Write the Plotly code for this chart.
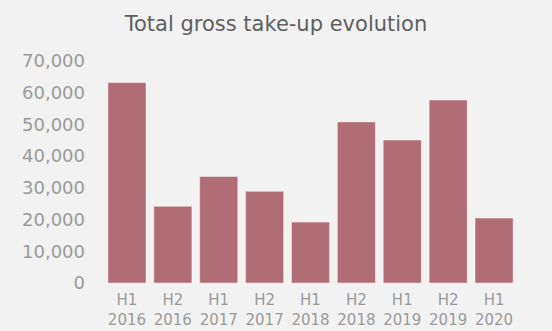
import plotly.graph_objects as go

# Half-year periods and gross take-up (sq m)
periods = ["H1<br>2016", "H2<br>2016", "H1<br>2017", "H2<br>2017", "H1<br>2018",
           "H2<br>2018", "H1<br>2019", "H2<br>2019", "H1<br>2020"]
take_up = [63200, 24200, 33600, 28900, 19200, 50800, 45100, 57700, 20500]

y_ticks = [0, 10000, 20000, 30000, 40000, 50000, 60000, 70000]

BG = "#f2f2f2"
BAR = "#b16d75"
FONT = "DejaVu Sans"
TICK_COLOR = "#9a9a9a"

fig = go.Figure(
    go.Bar(
        x=periods,
        y=take_up,
        marker=dict(color=BAR, line=dict(color="rgba(255,255,255,0.45)", width=1)),
        hoverinfo="skip",
    )
)

fig.update_layout(
    width=552,
    height=331,
    margin=dict(l=104, r=35, t=61, b=48, autoexpand=False),
    paper_bgcolor=BG,
    plot_bgcolor=BG,
    bargap=0.17,
    showlegend=False,
    title=dict(
        text="Total gross take-up evolution",
        x=0.5,
        xanchor="center",
        y=1 - 24 / 331,
        yanchor="middle",
        font=dict(family=FONT, size=21, color="#5f5f5f"),
    ),
    xaxis=dict(
        showgrid=False,
        zeroline=False,
        showline=False,
        ticks="",
        automargin=False,
        ticklabelstandoff=6,
        tickfont=dict(family=FONT, size=15, color=TICK_COLOR),
    ),
    yaxis=dict(
        range=[0, 70000],
        tickvals=y_ticks,
        tickformat=",d",
        showgrid=False,
        zeroline=False,
        showline=False,
        ticks="",
        automargin=False,
        ticklabelstandoff=18,
        tickfont=dict(family=FONT, size=18, color=TICK_COLOR),
    ),
)

fig.write_html("out.html")
